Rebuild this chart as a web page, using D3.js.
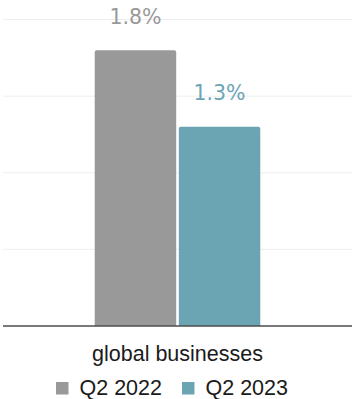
<!DOCTYPE html>
<html>
<head>
<meta charset="utf-8">
<script src="https://cdn.jsdelivr.net/npm/d3@7"></script>
<style>
  html, body { margin: 0; padding: 0; background: #ffffff; }
  svg { display: block; }
</style>
</head>
<body>
<div id="chart"></div>
<script>
// Chart data
const categories = ["global businesses"];
const seriesNames = ["Q2 2022", "Q2 2023"];
const seriesValues = [[1.8], [1.3]];   // one array per series, aligned with categories
const seriesColors = ["#999999", "#6ba5b4"];
const yTicks = [0, 0.5, 1, 1.5, 2];

const width = 352, height = 399;
const plotLeft = 3, plotRight = 352, plotTop = 19.5, plotBottom = 326;

const svg = d3.select("#chart").append("svg")
  .attr("width", width).attr("height", height);

const y = d3.scaleLinear().domain([0, 2]).range([plotBottom, plotTop]);
const x0 = d3.scaleBand().domain(categories).range([plotLeft, plotRight])
  .paddingInner(0).paddingOuter(0.554);
const x1 = d3.scaleBand().domain(seriesNames).range([0, x0.bandwidth()])
  .paddingInner(0.031).paddingOuter(0);
const color = d3.scaleOrdinal().domain(seriesNames).range(seriesColors);

// Horizontal grid lines
svg.append("g").selectAll("line")
  .data(yTicks.filter(t => t > 0))
  .join("line")
  .attr("x1", plotLeft).attr("x2", plotRight)
  .attr("y1", d => y(d)).attr("y2", d => y(d))
  .attr("stroke", "#eeeeee").attr("stroke-width", 1);

// Bars with rounded top corners
function topRoundedBar(x, yTop, w, h, r) {
  return `M${x},${yTop + h}V${yTop + r}Q${x},${yTop} ${x + r},${yTop}` +
         `H${x + w - r}Q${x + w},${yTop} ${x + w},${yTop + r}V${yTop + h}Z`;
}

const rows = [];
categories.forEach((c, ci) => {
  seriesNames.forEach((s, si) => rows.push({ cat: c, series: s, value: seriesValues[si][ci] }));
});

const groups = svg.append("g");
groups.selectAll("path.bar")
  .data(rows)
  .join("path")
  .attr("class", "bar")
  .attr("d", d => {
    const bx = x0(d.cat) + x1(d.series);
    return topRoundedBar(bx, y(d.value), x1.bandwidth(), y(0) - y(d.value), 2);
  })
  .attr("fill", d => color(d.series));

// Value labels above bars
groups.selectAll("text.value")
  .data(rows)
  .join("text")
  .attr("class", "value")
  .attr("x", d => x0(d.cat) + x1(d.series) + x1.bandwidth() / 2)
  .attr("y", d => y(d.value) - 26.5)
  .attr("text-anchor", "middle")
  .attr("font-family", "DejaVu Sans, sans-serif")
  .attr("font-size", "20.5px")
  .attr("fill", d => color(d.series))
  .text(d => d.value.toFixed(1) + "%");

// Baseline axis
const xAxis = d3.axisBottom(x0).tickSize(0).tickPadding(18);
const axisG = svg.append("g")
  .attr("transform", `translate(0,${plotBottom})`)
  .call(xAxis);
axisG.select(".domain")
  .attr("d", `M${plotLeft},0H${plotRight}`)
  .attr("stroke", "#4d4d4d").attr("stroke-width", 1.6);
axisG.selectAll(".tick text")
  .attr("dy", null)
  .attr("y", 35)
  .attr("font-family", "Liberation Sans, Arial, sans-serif")
  .attr("font-size", "21.5px")
  .attr("fill", "#1a1a1a");

// Legend
const legend = svg.append("g").attr("transform", "translate(56,394.5)");
let lx = 0;
seriesNames.forEach((s, i) => {
  const item = legend.append("g").attr("transform", `translate(${lx},0)`);
  item.append("rect")
    .attr("x", 0).attr("y", -12.5)
    .attr("width", 12.5).attr("height", 12.5)
    .attr("fill", color(s));
  const t = item.append("text")
    .attr("x", 23.5).attr("y", 0)
    .attr("font-family", "Liberation Sans, Arial, sans-serif")
    .attr("font-size", "21.5px")
    .attr("fill", "#1a1a1a")
    .text(s);
  lx += 23.5 + t.node().getComputedTextLength() + 20;
});
</script>
</body>
</html>
